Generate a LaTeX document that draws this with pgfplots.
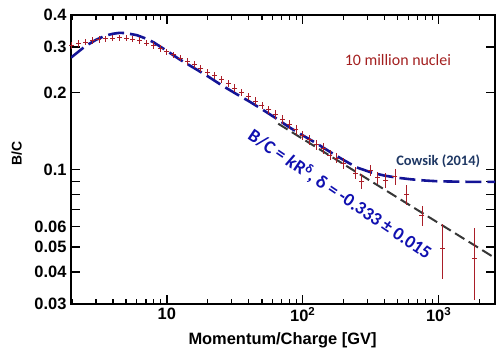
\documentclass[border=0pt]{standalone}
\usepackage{fontspec}
\setmainfont{Liberation Sans}
\newfontfamily\carlito{Carlito}
\usepackage{pgfplots}
\usepackage{pgfplotstable}
\pgfplotsset{compat=1.18}
\definecolor{datared}{RGB}{170,30,40}
\definecolor{cowblue}{RGB}{20,20,150}
\definecolor{fitgray}{RGB}{55,55,55}
\definecolor{txtred}{RGB}{163,31,31}
\definecolor{txtnavy}{RGB}{31,56,100}
\definecolor{txtblue}{RGB}{16,16,176}

\pgfplotstableread{
x y e
2.000 0.305 0.009
2.239 0.310 0.009
2.512 0.314 0.009
2.818 0.318 0.009
3.162 0.321 0.009
3.548 0.323 0.009
3.981 0.325 0.009
4.467 0.326 0.009
5.012 0.325 0.009
5.623 0.322 0.009
6.310 0.318 0.009
7.079 0.311 0.009
7.943 0.304 0.009
8.913 0.296 0.009
10.00 0.288 0.008
11.22 0.280 0.008
12.59 0.272 0.008
14.13 0.264 0.008
15.85 0.256 0.008
17.78 0.248 0.007
19.95 0.240 0.007
22.39 0.232 0.007
25.12 0.224 0.007
28.18 0.216 0.007
31.62 0.208 0.007
35.48 0.200 0.007
39.81 0.193 0.006
44.67 0.185 0.006
50.12 0.178 0.006
56.23 0.171 0.006
63.10 0.164 0.006
70.79 0.157 0.006
79.43 0.150 0.006
89.13 0.143 0.006
100.0 0.136 0.006
112.2 0.131 0.006
125.9 0.125 0.006
141.3 0.121 0.006
158.5 0.114 0.005
177.8 0.111 0.005
199.5 0.106 0.005
243 0.097 0.005
272 0.0898 0.006
313 0.0997 0.005
352 0.093 0.005
409 0.091 0.006
477 0.094 0.0065
582 0.0798 0.007
754 0.0663 0.006
1064 0.0495 0.012
1828 0.0451 0.014
}\reddata

\pgfplotstableread{
x y
1.97 0.273
2.5 0.302
3.0 0.320
3.5 0.332
4.0 0.338
4.5 0.341
5.0 0.340
6.0 0.334
7.0 0.324
8.0 0.313
10 0.290
12.5 0.268
16 0.248
20 0.231
25 0.214
32 0.198
40 0.185
50 0.172
63 0.159
80 0.146
100 0.136
125 0.127
160 0.117
200 0.109
250 0.102
320 0.0975
400 0.0948
500 0.0930
630 0.0917
800 0.0907
1000 0.0901
1600 0.0897
2600 0.0896
}\cowsik

\pgfplotstableread{
x y
66 0.151
2600 0.0453
}\fitline

\begin{document}
\begin{tikzpicture}
\begin{axis}[
  scale only axis, width=424bp, height=289bp,
  xmode=log, ymode=log,
  xmin=1.97, xmax=2600, ymin=0.03, ymax=0.4,
  axis line style={line width=2.2bp},
  tick style={line width=1.4bp, black},
  tick align=inside,
  major tick length=9bp, minor tick length=5bp,
  xtick={10,100,1000},
  xticklabels={10,10\textsuperscript{2},10\textsuperscript{3}},
  minor xtick={2,3,4,5,6,7,8,9,20,30,40,50,60,70,80,90,200,300,400,500,600,700,800,900,2000},
  ytick={0.03,0.04,0.05,0.06,0.07,0.08,0.09,0.1,0.2,0.3,0.4},
  yticklabels={0.03,0.04,0.05,0.06,,,,0.1,0.2,0.3,0.4},
  yminorticks=false,
  ticklabel style={font=\bfseries\fontsize{16.5}{16.5}\selectfont},
  yticklabel style={xshift=-1bp},
  ylabel={B/C},
  ylabel style={font=\bfseries\fontsize{14}{14}\selectfont, at={(axis description cs:-0.128,0.52)}, anchor=center},
  xlabel={Momentum/Charge [GV]},
  xlabel style={font=\bfseries\fontsize{16.5}{16.5}\selectfont, at={(axis description cs:0.499,-0.125)}, anchor=center},
  clip=true,
]
\addplot[cowblue, line width=2.6bp, dash pattern=on 16bp off 6bp] table[x=x,y=y]{\cowsik};
\addplot[fitgray, line width=2bp, dash pattern=on 11bp off 5bp] table[x=x,y=y]{\fitline};
\addplot[datared, only marks, mark=-, mark size=2.5bp, mark options={line width=0.8bp},
  error bars/.cd, y dir=both, y explicit,
  error bar style={line width=0.8bp, datared}, error mark=none]
  table[x=x,y=y,y error=e]{\reddata};
\node[font=\carlito\fontsize{16}{16}\selectfont, text=txtred] at (rel axis cs:0.771,0.844) {10 million nuclei};
\node[font=\carlito\bfseries\fontsize{14.5}{14.5}\selectfont, text=txtnavy] at (rel axis cs:0.866,0.493) {Cowsik (2014)};
\node[font=\carlito\bfseries\fontsize{18.5}{18.5}\selectfont, text=txtblue, rotate=-34] at (rel axis cs:0.635,0.38) {B/C = \textit{k}R\textsuperscript{δ}, δ = -0.333 ± 0.015};
\end{axis}
\pgfresetboundingbox
\path[use as bounding box] ([xshift=-71bp,yshift=-52bp]current axis.south west) rectangle ([xshift=8bp,yshift=15bp]current axis.north east);
\end{tikzpicture}
\end{document}
